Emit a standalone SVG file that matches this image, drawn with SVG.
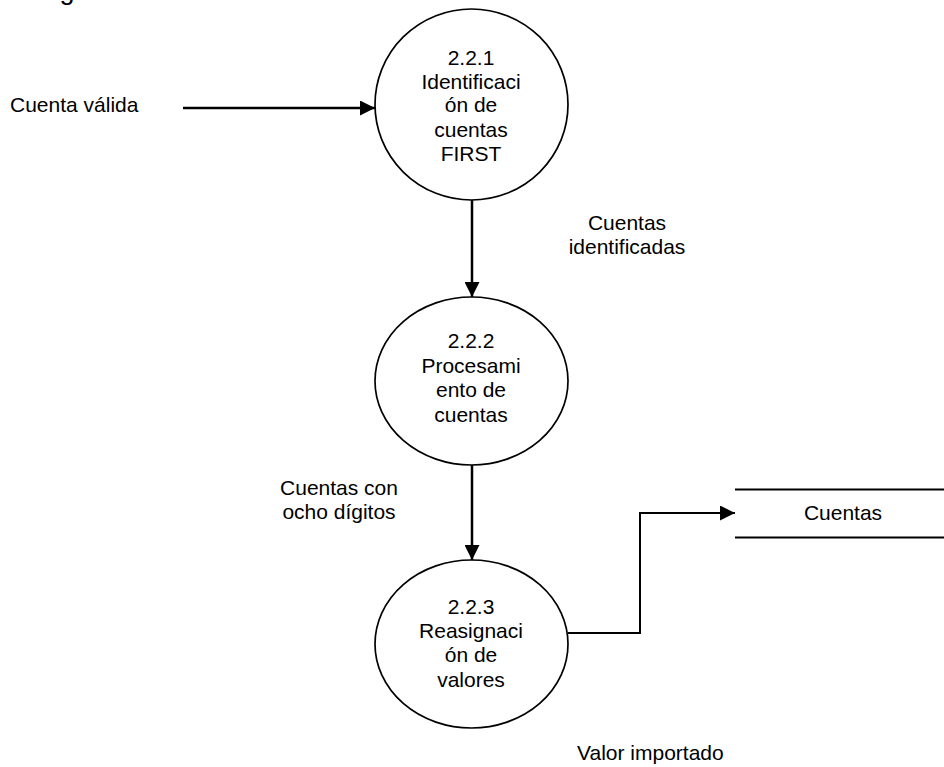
<svg xmlns="http://www.w3.org/2000/svg" width="944" height="767" viewBox="0 0 944 767">
<style>
text{font-family:"Liberation Sans",Arial,sans-serif;font-size:21px;fill:#000}
.c{text-anchor:middle}
.proc{fill:#fff;stroke:#000;stroke-width:1.7}
.flow{fill:none;stroke:#000;stroke-width:2.5}
.store{stroke:#000;stroke-width:2}
</style>
<defs>
<marker id="ah" viewBox="0 0 10 10" refX="10" refY="5" markerWidth="6" markerHeight="6" markerUnits="strokeWidth" orient="auto">
<path d="M0,0 L10,5 L0,10 Z" fill="#000"/>
</marker>
<marker id="ah2" viewBox="0 0 10 10" refX="10" refY="5" markerWidth="7.5" markerHeight="7.5" markerUnits="strokeWidth" orient="auto">
<path d="M0,0 L10,5 L0,10 Z" fill="#000"/>
</marker>
</defs>
<text x="22" y="-1" style="font-size:27px">Asignación de cuentas</text>
<g id="connectors">
<line class="flow" x1="183" y1="108" x2="375" y2="108" marker-end="url(#ah)"/>
<line class="flow" x1="472" y1="200" x2="472" y2="297" marker-end="url(#ah)"/>
<line class="flow" x1="472" y1="465" x2="472" y2="560" marker-end="url(#ah)"/>
<polyline class="flow" points="568,633 640,633 640,513 735,513" marker-end="url(#ah2)" style="stroke-width:2"/>
</g>
<g id="p221">
<ellipse class="proc" cx="471.5" cy="104.5" rx="96.5" ry="95.5"/>
<text class="c" x="471" y="65">2.2.1</text>
<text class="c" x="471" y="88.5">Identificaci</text>
<text class="c" x="471" y="112">ón de</text>
<text class="c" x="471" y="136.5">cuentas</text>
<text class="c" x="471" y="161">FIRST</text>
</g>
<g id="p222">
<ellipse class="proc" cx="471.5" cy="381" rx="96.5" ry="84"/>
<text class="c" x="471" y="348">2.2.2</text>
<text class="c" x="471" y="372.5">Procesami</text>
<text class="c" x="471" y="397">ento de</text>
<text class="c" x="471" y="421.5">cuentas</text>
</g>
<g id="p223">
<ellipse class="proc" cx="471.5" cy="644" rx="96.5" ry="84"/>
<text class="c" x="471" y="613.5">2.2.3</text>
<text class="c" x="471" y="638">Reasignaci</text>
<text class="c" x="471" y="662">ón de</text>
<text class="c" x="471" y="686.5">valores</text>
</g>
<g id="store-cuentas">
<line class="store" x1="735" y1="489.5" x2="944" y2="489.5"/>
<line class="store" x1="735" y1="537.5" x2="944" y2="537.5"/>
<text class="c" x="843" y="519.5">Cuentas</text>
</g>
<g id="labels">
<text x="10" y="111.5">Cuenta válida</text>
<text class="c" x="627" y="230">Cuentas</text>
<text class="c" x="627" y="253.5">identificadas</text>
<text class="c" x="339" y="495">Cuentas con</text>
<text class="c" x="339" y="518.5">ocho dígitos</text>
<text x="577" y="760">Valor importado</text>
</g>
</svg>
